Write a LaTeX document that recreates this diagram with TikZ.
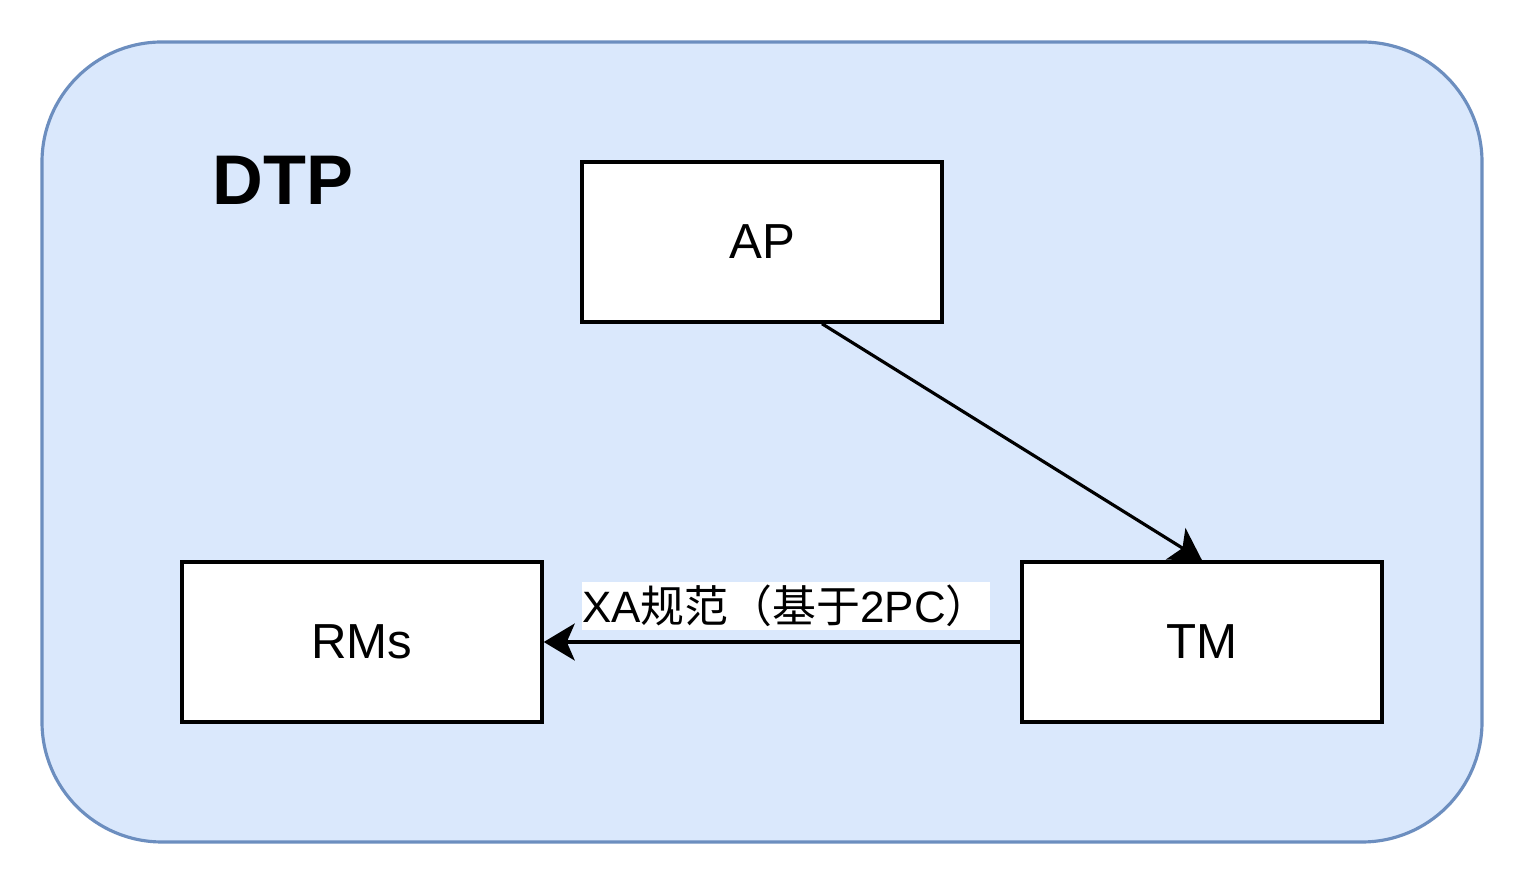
\documentclass[tikz,border=0pt]{standalone}
\usepackage{fontspec}
\setmainfont{Liberation Sans}
\newfontfamily\cjk{Noto Sans CJK SC}
\usetikzlibrary{arrows.meta, positioning}
\definecolor{dtpfill}{HTML}{DAE8FC}
\definecolor{dtpline}{HTML}{6C8EBF}

\begin{document}
\begin{tikzpicture}[
    block/.style={rectangle, draw, line width=2pt, fill=white,
    minimum width=7.2cm, minimum height=3.2cm, align=center,
    font=\fontsize{28}{34}\selectfont},
    arrow/.style={-{Stealth[length=0.62cm, width=0.74cm, inset=0.16cm]}, line width=1.8pt}
]
\useasboundingbox (0,0) rectangle (30.48,17.68);

% ---------------- CONTAINER ----------------
\draw[dtpline, fill=dtpfill, line width=1.8pt, rounded corners=2.4cm]
    (0.84,0.84) rectangle (29.64,16.84);

\node[font=\fontsize{40}{48}\selectfont\bfseries] (dtp) at (5.66,14.08) {DTP};

% ---------------- COMPONENTS ----------------
\node[block] (ap) at (15.24,12.84) {AP};

\node[block, below right=4.73cm and 1.53cm of ap] (tm) {TM};

\node[block, left=9.53cm of tm] (rms) {RMs};

\draw[arrow] ([xshift=1.2cm]ap.south)--(tm.north);
\draw[arrow] (tm)--(rms)
    node[midway, above=0.2cm, xshift=0.08cm, fill=white, inner xsep=0pt,
    inner ysep=2pt, font=\fontsize{25}{30}\selectfont] (xa)
    {XA{\cjk 规范（基于}2PC{\cjk ）}};

\end{tikzpicture}
\end{document}
